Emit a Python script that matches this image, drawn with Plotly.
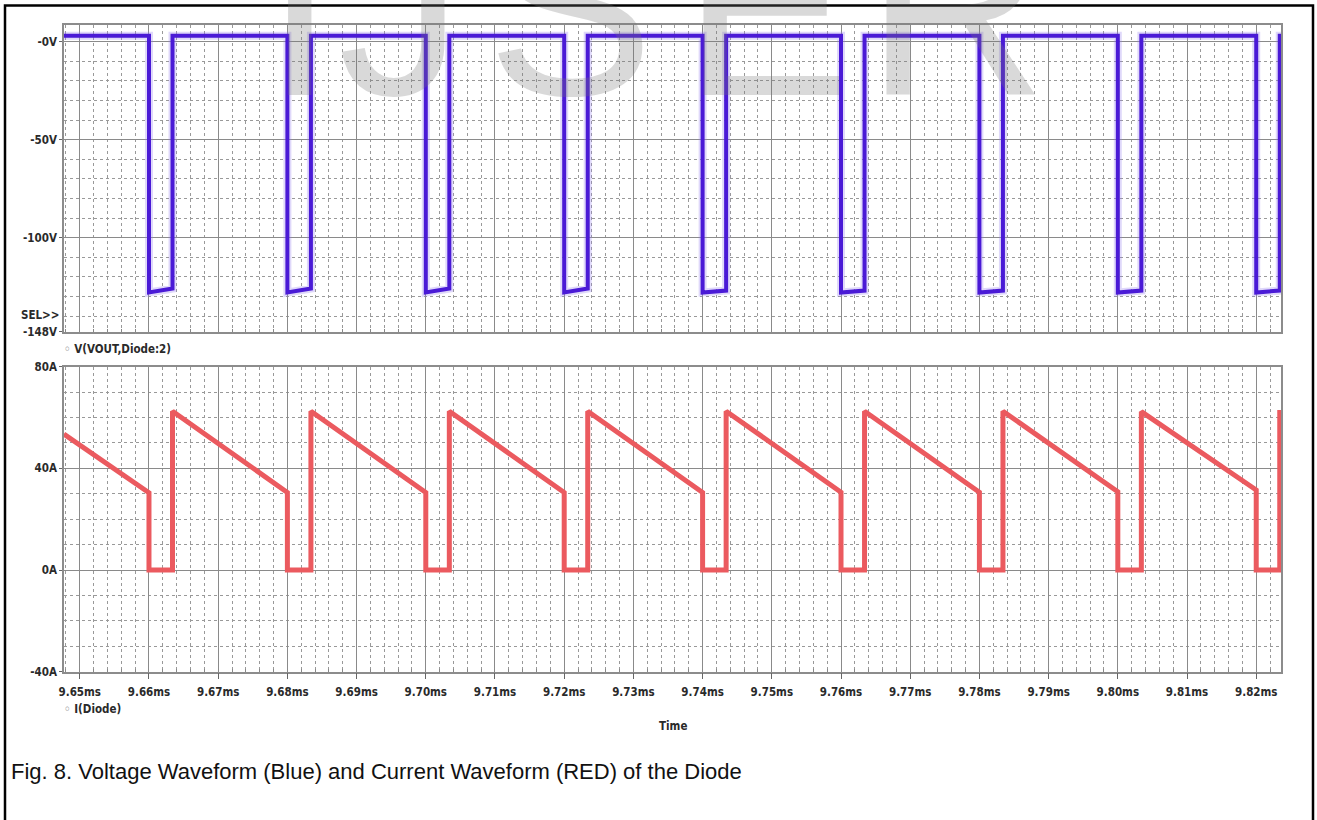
import plotly.graph_objects as go

W, H = 1317, 820

# ---------------- data ----------------
time_ticks = [9.65, 9.66, 9.67, 9.68, 9.69, 9.70, 9.71, 9.72, 9.73,
              9.74, 9.75, 9.76, 9.77, 9.78, 9.79, 9.80, 9.81, 9.82]
time_tick_labels = ["9.65ms", "9.66ms", "9.67ms", "9.68ms", "9.69ms", "9.70ms",
                    "9.71ms", "9.72ms", "9.73ms", "9.74ms", "9.75ms", "9.76ms",
                    "9.77ms", "9.78ms", "9.79ms", "9.80ms", "9.81ms", "9.82ms"]
volt_ticks = [0, -50, -100, -148]
volt_tick_labels = ["-0V", "-50V", "-100V", "-148V"]
amp_ticks = [80, 40, 0, -40]
amp_tick_labels = ["80A", "40A", "0A", "-40A"]

t_start = 9.6477
t_end = 9.8236
# switching instants (ms)
t_drop = [9.6600, 9.6800, 9.7000, 9.7200, 9.7400, 9.7600, 9.7800, 9.8000, 9.8200]
t_rise = [9.6634, 9.6834, 9.7034, 9.7234, 9.7434, 9.7634, 9.7834, 9.8034, 9.8234]

# diode voltage V(VOUT,Diode:2)
v_high = 3.0
v_low_start = [-128, -128, -128, -128, -128, -128, -128, -128, -128]
v_low_end = [-126, -126, -126, -126, -127, -127, -127, -127, -127]

# diode current I(Diode)
i_start = 53.5
i_before_drop = [30.4, 30.5, 30.5, 30.5, 30.5, 30.6, 30.6, 30.8, 31.5]
i_zero = 0.0
i_peak = [62.5, 62.5, 62.5, 62.5, 62.5, 62.5, 62.5, 62.3, 62.0]

# ---------------- build the piecewise traces ----------------
vx, vy = [t_start], [v_high]
ix, iy = [t_start], [i_start]
for k in range(len(t_drop)):
    vx += [t_drop[k], t_drop[k], t_rise[k], t_rise[k]]
    vy += [v_high, v_low_start[k], v_low_end[k], v_high]
    ix += [t_drop[k], t_drop[k], t_rise[k], t_rise[k]]
    iy += [i_before_drop[k], i_zero, i_zero, i_peak[k]]
vx.append(t_end)
vy.append(v_high)
ix.append(t_end)
iy.append(i_peak[-1])

BLUE = "#4A1AD6"
RED = "#EB5A5F"

fig = go.Figure()
fig.add_trace(go.Scatter(x=vx, y=vy, mode="lines", xaxis="x", yaxis="y",
                         line=dict(color="rgba(150,125,240,0.3)", width=8),
                         hoverinfo="skip"))
fig.add_trace(go.Scatter(x=vx, y=vy, mode="lines", xaxis="x", yaxis="y",
                         line=dict(color=BLUE, width=4), name="V(VOUT,Diode:2)"))
fig.add_trace(go.Scatter(x=ix, y=iy, mode="lines", xaxis="x2", yaxis="y2",
                         line=dict(color=RED, width=5), name="I(Diode)"))
# empty trace that carries the full-page pixel axes used for texts
fig.add_trace(go.Scatter(x=[], y=[], xaxis="x3", yaxis="y3", hoverinfo="skip"))

# ---------------- geometry (pixels -> paper) ----------------
def px(x):
    return x / W

def py(y):
    return 1 - y / H

x_dom = [px(64), px(1281)]
top_dom = [py(331.7), py(25)]
bot_dom = [py(671.7), py(366.7)]
x_range = [9.64772, 9.82358]

tick_font = dict(family="DejaVu Sans Condensed", size=11.5, color="#2a2a2a", weight="bold")
GRID = "#8a8a8a"
MINOR = "#999999"
AXLINE = "#8c8c8c"

xminor = dict(tickmode="linear", tick0=9.65, dtick=0.002, showgrid=True,
              gridcolor=MINOR, griddash="dot", gridwidth=1,
              ticks="inside", ticklen=3, tickcolor="#888")

common_x = dict(domain=x_dom, range=x_range, tickmode="array", tickvals=time_ticks,
                showgrid=True, gridcolor=GRID, gridwidth=1.2, zeroline=False,
                showline=True, mirror=True, linecolor=AXLINE, linewidth=1.5,
                minor=xminor, automargin=False)

fig.update_layout(
    width=W, height=H,
    margin=dict(l=0, r=0, t=0, b=0, pad=0, autoexpand=False),
    paper_bgcolor="white", plot_bgcolor="rgba(0,0,0,0)",
    showlegend=False,
    xaxis=dict(**common_x, anchor="y", showticklabels=False, ticks=""),
    xaxis2=dict(**common_x, anchor="y2", matches="x", ticktext=time_tick_labels,
                ticks="outside", ticklen=6, tickcolor="#666", tickwidth=1.2,
                tickfont=tick_font, ticklabelstandoff=3),
    yaxis=dict(domain=top_dom, range=[-148, 8.5], anchor="x", automargin=False,
               tickmode="array", tickvals=volt_ticks, ticktext=volt_tick_labels,
               showgrid=True, gridcolor=GRID, gridwidth=1.2, zeroline=False,
               showline=True, mirror=True, linecolor=AXLINE, linewidth=1.5,
               ticks="outside", ticklen=3, tickcolor="#666", tickfont=tick_font,
               minor=dict(tickmode="linear", tick0=0, dtick=10, showgrid=True,
                          gridcolor=MINOR, griddash="dot", gridwidth=1)),
    yaxis2=dict(domain=bot_dom, range=[-40, 80], anchor="x2", automargin=False,
                tickmode="array", tickvals=amp_ticks, ticktext=amp_tick_labels,
                showgrid=True, gridcolor=GRID, gridwidth=1.2, zeroline=False,
                showline=True, mirror=True, linecolor=AXLINE, linewidth=1.5,
                ticks="outside", ticklen=3, tickcolor="#666", tickfont=tick_font,
                minor=dict(tickmode="linear", tick0=0, dtick=10, showgrid=True,
                           gridcolor=MINOR, griddash="dot", gridwidth=1)),
    xaxis3=dict(domain=[0, 1], range=[0, W], anchor="y3", visible=False,
                fixedrange=True, automargin=False),
    yaxis3=dict(domain=[0, 1], range=[H, 0], anchor="x3", visible=False,
                fixedrange=True, automargin=False),
)

# outer frame
fig.add_shape(type="rect", xref="paper", yref="paper",
              x0=px(5), x1=px(1313), y0=-0.02, y1=py(5.5),
              line=dict(color="black", width=2.5), fillcolor="rgba(0,0,0,0)")

label_font = dict(family="DejaVu Sans Condensed", size=11.5, color="#2a2a2a", weight="bold")
annos = [
    dict(text="SEL>>", x=61, y=315, xanchor="right", yanchor="middle", font=label_font),
    dict(text="<span style='color:#888'>◦</span> V(VOUT,Diode:2)", x=62, y=349,
         xanchor="left", yanchor="middle", font=label_font),
    dict(text="<span style='color:#888'>◦</span> I(Diode)", x=62, y=709,
         xanchor="left", yanchor="middle", font=label_font),
    dict(text="Time", x=673, y=726, xanchor="center", yanchor="middle", font=label_font),
    dict(text="Fig. 8. Voltage Waveform (Blue) and Current Waveform (RED) of the Diode",
         x=9, y=771, xanchor="left", yanchor="middle",
         font=dict(family="Liberation Sans", size=22, color="#111")),
]
# watermark letters
wm_letters = ["I", "J", "S", "E", "R"]
wm_centers = [299, 400, 570, 766, 956]
for ch, cx in zip(wm_letters, wm_centers):
    annos.append(dict(text=ch, x=cx, y=150, xanchor="center", yanchor="bottom",
                      font=dict(family="Liberation Sans", size=250,
                                color="rgba(120,120,120,0.28)")))
for a in annos:
    a.update(xref="x3", yref="y3", showarrow=False)
fig.update_layout(annotations=annos)

fig.write_html("out.html",
               config={"displayModeBar": False},
               post_script="document.body.style.margin='0px';document.body.style.overflow='hidden';")
